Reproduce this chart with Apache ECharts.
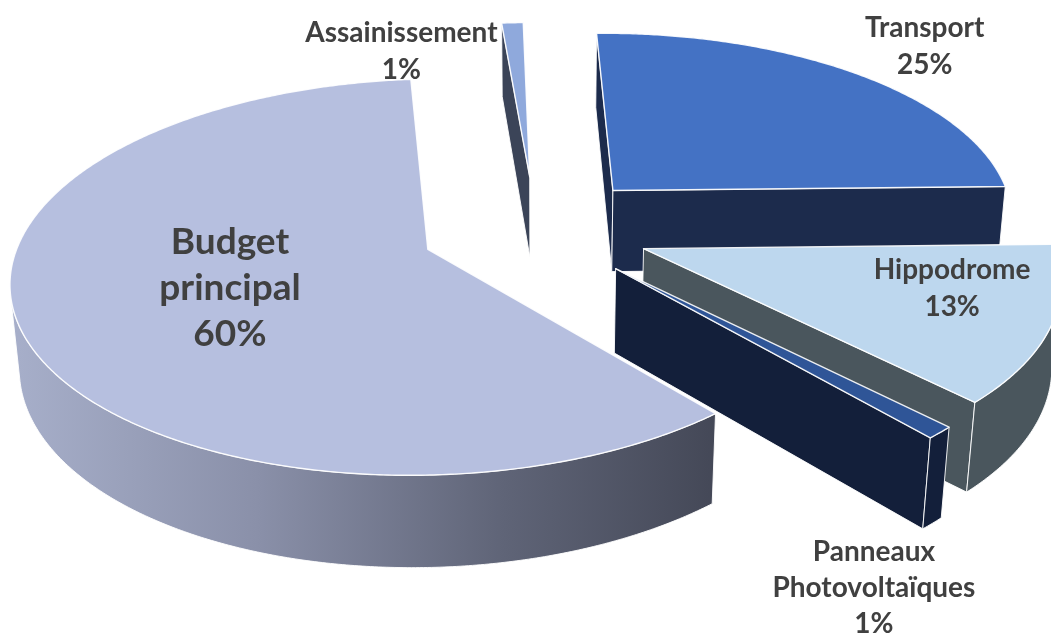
<!DOCTYPE html>
<html>
<head>
<meta charset="utf-8">
<script src="https://cdn.jsdelivr.net/npm/echarts@6/dist/echarts.min.js"></script>
<style>
  html, body { margin: 0; padding: 0; background: #ffffff; }
  #chart { width: 1051px; height: 635px; }
</style>
</head>
<body>
<div id="chart"></div>
<script>
// Budget shares, clockwise from 12 o'clock
const categories = ['Assainissement', 'Transport', 'Hippodrome', 'Panneaux\nPhotovoltaïques', 'Budget\nprincipal'];
const shares = [1, 25, 13, 1, 60];

// Face colours per slice
const topColors  = ['#8fa9dc', '#4472c4', '#bdd7ee', '#2f5597', '#b6bfdf'];
const wallColors = ['#3b4458', '#1c2b4c', '#4a565d', '#131f3a', '#5d6278'];
const budgetSideStops = [
  { offset: 0,    color: '#a7afca' },
  { offset: 0.35, color: '#8a90a9' },
  { offset: 0.7,  color: '#5f6477' },
  { offset: 1,    color: '#444857' }
];

// Label placement: radius factor on the top face plus a screen nudge
const labelLayout = [
  { r: 1.0,  dx: -111, dy: 29,  size: 28, lh: 37 },
  { r: 1.0,  dx: 70,   dy: -27, size: 28, lh: 37 },
  { r: 0.75, dx: 7,    dy: -17, size: 28, lh: 37 },
  { r: 1.0,  dx: -66,  dy: 155, size: 28, lh: 36 },
  { r: 0.5,  dx: 0,    dy: 0,   size: 37, lh: 46 }
];

// Camera / pie geometry
const view = {
  R: 405, h: 95, tilt: 28 * Math.PI / 180, yaw: 4.9 * Math.PI / 180, F: 2600,
  ppx: 541, ppy: 240, cx: 535.5, cy: 228.2, explode: 115
};

const total = shares.reduce((a, b) => a + b, 0);
const angles = [];
{
  let acc = 0;
  shares.forEach(v => {
    const a0 = acc / total * Math.PI * 2;
    acc += v;
    angles.push([a0, acc / total * Math.PI * 2]);
  });
}

const ca = Math.cos(view.tilt), sa = Math.sin(view.tilt);
const cb = Math.cos(view.yaw), sb = Math.sin(view.yaw);
const X0 = view.cx - view.ppx, U0 = view.ppy - view.cy;
// camera position in the yawed frame
const camera = [-X0, -U0 * ca + view.F * sa, U0 * sa + view.F * ca];

function yawed(X, Y, Z) {
  return [X * cb + Z * sb, Y, -X * sb + Z * cb];
}

function project(X, Y, Z) {
  const [Xr, Yr, Zr] = yawed(X, Y, Z);
  const u = Yr * ca - Zr * sa;
  const w = Zr * ca + Yr * sa;
  const s = view.F / (view.F - w);
  return [view.ppx + (Xr + X0) * s, view.ppy - (u + U0) * s];
}

function sliceFrame(i) {
  const [a0, a1] = angles[i];
  const am = (a0 + a1) / 2;
  const ox = view.explode * Math.sin(am), oz = -view.explode * Math.cos(am);
  const P = (phi, r, Y) => project(ox + r * Math.sin(phi), Y, oz - r * Math.cos(phi));
  return { a0, a1, am, ox, oz, P };
}

function facing(n, p) {
  const nr = yawed(n[0], n[1], n[2]);
  const pr = yawed(p[0], p[1], p[2]);
  return nr[0] * (camera[0] - pr[0]) + nr[1] * (camera[1] - pr[1]) + nr[2] * (camera[2] - pr[2]) > 0;
}

function distance(i) {
  const f = sliceFrame(i);
  const p = yawed(f.ox + 0.5 * view.R * Math.sin(f.am), 0, f.oz - 0.5 * view.R * Math.cos(f.am));
  return Math.hypot(camera[0] - p[0], camera[1] - p[1], camera[2] - p[2]);
}

// paint far slices first
const drawOrder = shares.map((v, i) => i).sort((a, b) => distance(b) - distance(a));

const edge = 'rgba(255,255,255,0.9)';
function poly(points, fill, lw) {
  return {
    type: 'polygon',
    shape: { points },
    style: { fill, stroke: edge, lineWidth: lw || 1, lineJoin: 'round' }
  };
}

function renderSlice(params, api) {
  const i = api.value(0);
  const { a0, a1, ox, oz, P } = sliceFrame(i);
  const R = view.R, h = view.h;
  const children = [];
  const centre = [ox, 0, oz];

  const wall = a => [P(0, 0, 0), P(a, R, 0), P(a, R, -h), P(0, 0, -h)];
  if (facing([-Math.cos(a0), 0, -Math.sin(a0)], centre)) children.push(poly(wall(a0), wallColors[i]));
  if (facing([Math.cos(a1), 0, Math.sin(a1)], centre)) children.push(poly(wall(a1), wallColors[i]));

  const N = Math.max(2, Math.ceil((a1 - a0) / (Math.PI / 360)));
  let run = [];
  const flush = () => {
    if (run.length > 1) {
      const pts = run.map(p => P(p, R, 0)).concat(run.slice().reverse().map(p => P(p, R, -h)));
      let fill = wallColors[i];
      if (i === shares.length - 1) {
        const xs = pts.map(p => p[0]);
        fill = {
          type: 'linear', global: true,
          x: Math.min(...xs), y: 0, x2: Math.max(...xs), y2: 0,
          colorStops: budgetSideStops
        };
      }
      children.push(poly(pts, fill));
    }
    run = [];
  };
  for (let k = 0; k < N; k++) {
    const p1 = a0 + (a1 - a0) * k / N, p2 = a0 + (a1 - a0) * (k + 1) / N, pm = (p1 + p2) / 2;
    const vis = facing([Math.sin(pm), 0, -Math.cos(pm)],
                       [ox + R * Math.sin(pm), -h / 2, oz - R * Math.cos(pm)]);
    if (vis) { if (!run.length) run.push(p1); run.push(p2); } else flush();
  }
  flush();

  const top = [P(0, 0, 0)];
  for (let k = 0; k <= N; k++) top.push(P(a0 + (a1 - a0) * k / N, R, 0));
  children.push(poly(top, topColors[i], 1.4));

  return { type: 'group', children };
}

function renderLabel(params, api) {
  const i = api.value(0);
  const L = labelLayout[i];
  const { am, P } = sliceFrame(i);
  const [x, y] = P(am, view.R * L.r, 0);
  const pct = Math.round(shares[i] / total * 100) + '%';
  return {
    type: 'text',
    x: x + L.dx, y: y + L.dy,
    style: {
      text: categories[i] + '\n' + pct,
      fill: '#404040',
      fontFamily: 'Lato, "Open Sans", sans-serif',
      fontWeight: 'bold',
      fontSize: L.size,
      lineHeight: L.lh,
      align: 'center', verticalAlign: 'middle',
      textAlign: 'center', textVerticalAlign: 'middle'
    }
  };
}

const chart = echarts.init(document.getElementById('chart'), null, { renderer: 'canvas' });
chart.setOption({
  backgroundColor: '#ffffff',
  animation: false,
  series: [
    {
      type: 'custom', coordinateSystem: 'none', z: 2,
      renderItem: renderSlice,
      data: drawOrder.map(i => ({ name: categories[i], value: [i, shares[i]] }))
    },
    {
      type: 'custom', coordinateSystem: 'none', z: 5,
      renderItem: renderLabel,
      data: shares.map((v, i) => ({ name: categories[i], value: [i, v] }))
    }
  ]
});
</script>
</body>
</html>
